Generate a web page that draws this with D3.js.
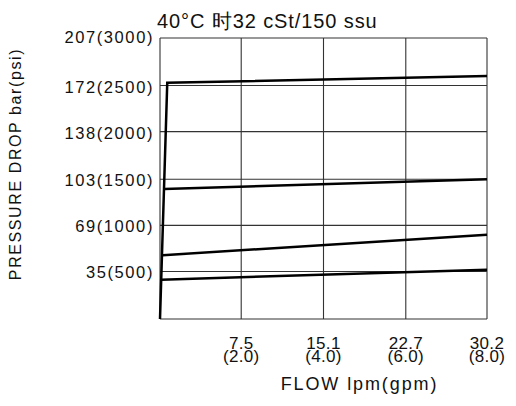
<!DOCTYPE html>
<html>
<head>
<meta charset="utf-8">
<script src="https://cdn.jsdelivr.net/npm/d3@7"></script>
<style>
  body { margin: 0; background: #fff; }
  text { font-family: "Liberation Sans", Arial, sans-serif; fill: #111; }
  .tick-label { font-size: 16.5px; letter-spacing: 1.6px; }
  .x-label { font-size: 17px; letter-spacing: 0.3px; }
  .axis-label { font-size: 18px; letter-spacing: 1.9px; }
  .title { font-size: 20px; letter-spacing: 0.9px; }
  .grid { stroke: #333; stroke-width: 1.1; }
  .curve { fill: none; stroke: #000; stroke-width: 2.5; }
</style>
</head>
<body>
<svg width="516" height="406"></svg>
<script>
// tick values
const barTicks = [35, 69, 103, 138, 172, 207]
const psiTicks = [500, 1000, 1500, 2000, 2500, 3000]
const lpmTicks = [7.5, 15.1, 22.7, 30.2]
const gpmTicks = ['2.0', '4.0', '6.0', '8.0']

// curves: flow in lpm, pressure drop in bar
const flowA = [0, 0.67, 30.2]
const dropA = [0, 174, 179]
const flowB = [0.37, 30.2]
const dropB = [95.8, 103]
const flowC = [0.25, 30.2]
const dropC = [47, 62]
const flowD = [0.11, 30.2]
const dropD = [29, 36.3]

const svg = d3.select('svg')
const width = +svg.attr('width')
const height = +svg.attr('height')

const margin = {top: 38, right: 29, bottom: 87, left: 160}
const innerWidth = width - margin.left - margin.right
const innerHeight = height - margin.top - margin.bottom

const xScale = d3.scaleLinear()
    .domain([0, 30.2])
    .range([0, innerWidth])

const yScale = d3.scaleLinear()
    .domain([0, 207])
    .range([innerHeight, 0])

const g = svg.append('g')
    .attr('transform', `translate(${margin.left},${margin.top})`)

// horizontal grid lines + y labels (top one sits a bit higher)
barTicks.forEach((b, i) => {
    g.append('line')
        .attr('class', 'grid')
        .attr('x1', 0).attr('x2', innerWidth)
        .attr('y1', yScale(b)).attr('y2', yScale(b))
    g.append('text')
        .attr('class', 'tick-label')
        .attr('x', -6)
        .attr('y', yScale(b) + (b === 207 ? 5 : 7))
        .attr('text-anchor', 'end')
        .text(`${b}(${psiTicks[i]})`)
})

// vertical grid lines + two line x labels
lpmTicks.forEach((f, i) => {
    g.append('line')
        .attr('class', 'grid')
        .attr('x1', xScale(f)).attr('x2', xScale(f))
        .attr('y1', 0).attr('y2', innerHeight)
    const t = g.append('text')
        .attr('class', 'x-label')
        .attr('text-anchor', 'middle')
        .attr('x', xScale(f))
        .attr('y', innerHeight + 30)
    t.append('tspan').attr('x', xScale(f)).text(f.toFixed(1))
    t.append('tspan').attr('x', xScale(f)).attr('dy', 13).text(`(${gpmTicks[i]})`)
})

// frame left / bottom
g.append('line').attr('class', 'grid')
    .attr('x1', 0).attr('x2', 0).attr('y1', 0).attr('y2', innerHeight)
g.append('line').attr('class', 'grid')
    .attr('x1', 0).attr('x2', innerWidth).attr('y1', innerHeight).attr('y2', innerHeight)

const line = d3.line()
    .x(d => xScale(d[0]))
    .y(d => yScale(d[1]))

const curves = [
    [flowA, dropA],
    [flowB, dropB],
    [flowC, dropC],
    [flowD, dropD]
]

g.selectAll('path.curve').data(curves)
    .enter().append('path')
        .attr('class', 'curve')
        .attr('d', c => line(d3.zip(c[0], c[1])))

// title
g.append('text')
    .attr('class', 'title')
    .attr('x', -3)
    .attr('y', -10)
    .text('40°C 时32 cSt/150 ssu')

// axis labels
g.append('text')
    .attr('class', 'axis-label')
    .attr('text-anchor', 'middle')
    .attr('x', innerWidth / 2 + 36)
    .attr('y', innerHeight + 71)
    .text('FLOW lpm(gpm)')

svg.append('text')
    .attr('class', 'axis-label')
    .attr('text-anchor', 'middle')
    .attr('transform', 'translate(21,164) rotate(-90)')
    .style('font-size', '16px')
    .style('letter-spacing', '1.6px')
    .text('PRESSURE DROP bar(psi)')
</script>
</body>
</html>
